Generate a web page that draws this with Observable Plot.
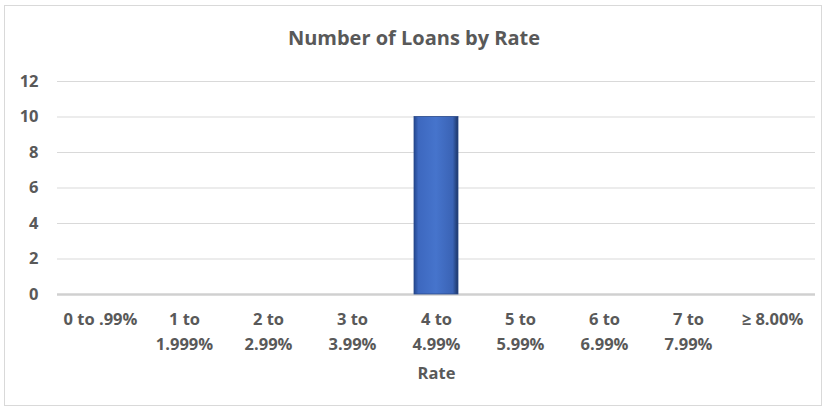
<!DOCTYPE html>
<html>
<head>
<meta charset="utf-8">
<script src="https://cdn.jsdelivr.net/npm/d3@7"></script>
<script src="https://cdn.jsdelivr.net/npm/@observablehq/plot@0.6"></script>
<style>
  html, body { margin: 0; padding: 0; background: #fff; }
  body { width: 828px; height: 411px; position: relative; overflow: hidden; font-family: "Open Sans", sans-serif; }
  #frame { position: absolute; left: 4px; top: 5px; width: 818px; height: 401px; border: 1px solid #d9d9d9; box-sizing: border-box; }
  #title { position: absolute; left: 0; top: 26px; width: 828px; text-align: center; font-weight: bold; font-size: 20px; color: #595959; line-height: 24px; }
  #chart { position: absolute; left: 0; top: 60px; }
</style>
</head>
<body>
<div id="frame"></div>
<div id="title">Number of Loans by Rate</div>
<div id="chart"></div>
<script>
const categories = ["0 to .99%", "1 to\n1.999%", "2 to\n2.99%", "3 to\n3.99%", "4 to\n4.99%", "5 to\n5.99%", "6 to\n6.99%", "7 to\n7.99%", "≥ 8.00%"];
const loanCounts = [0, 0, 0, 0, 10, 0, 0, 0, 0];
const yTicks = [0, 2, 4, 6, 8, 10, 12];
const xLabel = "Rate";

const data = categories.map((c, i) => ({rate: c, count: loanCounts[i]}));

const plot = Plot.plot({
  width: 828,
  height: 351,
  marginLeft: 57,
  marginRight: 13,
  marginTop: 21,
  marginBottom: 117,
  style: {fontFamily: "'Open Sans', sans-serif", fontSize: "16.5px", color: "#595959", background: "transparent"},
  x: {domain: categories, paddingInner: 0.48, paddingOuter: 0.24, label: null},
  y: {domain: [0, 12], label: null},
  marks: [
    Plot.gridY(yTicks, {stroke: "#d9d9d9", strokeOpacity: 1, strokeWidth: 1}),
    Plot.ruleY([0], {stroke: "#d0d0d0", strokeWidth: 2.5}),
    Plot.barY(data.filter(d => d.count > 0), {x: "rate", y: "count", fill: "url(#barGrad)", stroke: "#2a4a8a", strokeWidth: 0.8}),
    Plot.axisY({ticks: yTicks, tickSize: 0, tickPadding: 19, fontWeight: "bold", fontSize: 16.5, fill: "#595959"}),
    Plot.axisX({tickSize: 0, tickPadding: 13, fontWeight: "bold", fontSize: 16.5, fill: "#595959", lineHeight: 1.52}),
    Plot.text([xLabel], {frameAnchor: "bottom", dy: 84, fontWeight: "bold", fontSize: 16.5, fill: "#595959"})
  ]
});

const ns = "http://www.w3.org/2000/svg";
const defs = document.createElementNS(ns, "defs");
defs.innerHTML = `
  <linearGradient id="barGrad" x1="0" x2="1" y1="0" y2="0">
    <stop offset="0" stop-color="#24478f"/>
    <stop offset="0.1" stop-color="#3d68bf"/>
    <stop offset="0.5" stop-color="#4674cc"/>
    <stop offset="0.88" stop-color="#3a63b5"/>
    <stop offset="1" stop-color="#1c3566"/>
  </linearGradient>`;
plot.insertBefore(defs, plot.firstChild);
document.getElementById("chart").appendChild(plot);
</script>
</body>
</html>
